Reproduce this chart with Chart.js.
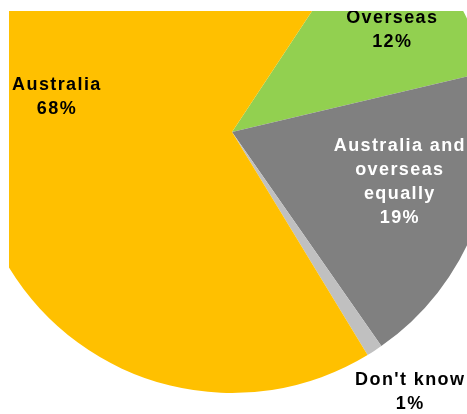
<!DOCTYPE html>
<html>
<head>
<meta charset="utf-8">
<script src="https://cdn.jsdelivr.net/npm/chart.js@4.4.1/dist/chart.umd.min.js"></script>
<style>
  html, body { margin: 0; padding: 0; background: #ffffff; }
  body { width: 467px; height: 414px; position: relative; overflow: hidden; }
  #frame { position: absolute; left: 9px; top: 11px; width: 458px; height: 403px; overflow: hidden; }
  #pie { position: absolute; left: -38px; top: -140px; }
</style>
</head>
<body>
<div id="frame"><canvas id="pie" width="600" height="600"></canvas></div>
<script>
// Where respondents prefer to invest (share of respondents, %)
const categories = ['Overseas', 'Australia and overseas equally', "Don't know", 'Australia'];
const shares = [12, 19, 1, 68];
const sliceColors = ['#92D050', '#808080', '#C0C0C0', '#FFC000'];
// Label text broken into lines for each slice
const labelLines = [
  ['Overseas'],
  ['Australia and', 'overseas', 'equally'],
  ["Don't know"],
  ['Australia']
];
const labelColors = ['#000000', '#ffffff', '#000000', '#000000'];
// Label anchor: distance as a fraction of the radius, and angular nudge (degrees) from the slice middle
const labelPlace = [
  { dist: 0.725, turn: 2.4 },
  { dist: 0.669, turn: -4.1 },
  { dist: 1.207, turn: -1.2 },
  { dist: 0.687, turn: 10.3 }
];

const sliceLabels = {
  id: 'sliceLabels',
  afterDatasetsDraw(chart) {
    const ctx = chart.ctx;
    const meta = chart.getDatasetMeta(0);
    ctx.save();
    ctx.font = 'bold 18px "Liberation Sans", Arial, sans-serif';
    ctx.textAlign = 'center';
    ctx.textBaseline = 'middle';
    if ('letterSpacing' in ctx) ctx.letterSpacing = '1.4px';
    const lineH = 24;
    meta.data.forEach((arc, i) => {
      const p = arc.getProps(['x', 'y', 'startAngle', 'endAngle', 'outerRadius'], true);
      const mid = (p.startAngle + p.endAngle) / 2 + labelPlace[i].turn * Math.PI / 180;
      const r = p.outerRadius * labelPlace[i].dist;
      const cx = p.x + Math.cos(mid) * r;
      const cy = p.y + Math.sin(mid) * r;
      const lines = labelLines[i].concat([shares[i] + '%']);
      const top = cy - (lines.length - 1) * lineH / 2;
      ctx.fillStyle = labelColors[i];
      lines.forEach((t, k) => ctx.fillText(t, cx + 0.7, top + k * lineH));
    });
    ctx.restore();
  }
};

new Chart(document.getElementById('pie'), {
  type: 'pie',
  data: {
    labels: categories,
    datasets: [{
      data: shares,
      backgroundColor: sliceColors,
      borderWidth: 0,
      hoverOffset: 0
    }]
  },
  options: {
    responsive: false,
    animation: false,
    devicePixelRatio: 1,
    rotation: 33.5,
    layout: { padding: { left: 0, top: 0, right: 78, bottom: 78 } },
    plugins: {
      legend: { display: false },
      tooltip: { enabled: false }
    }
  },
  plugins: [sliceLabels]
});
</script>
</body>
</html>
